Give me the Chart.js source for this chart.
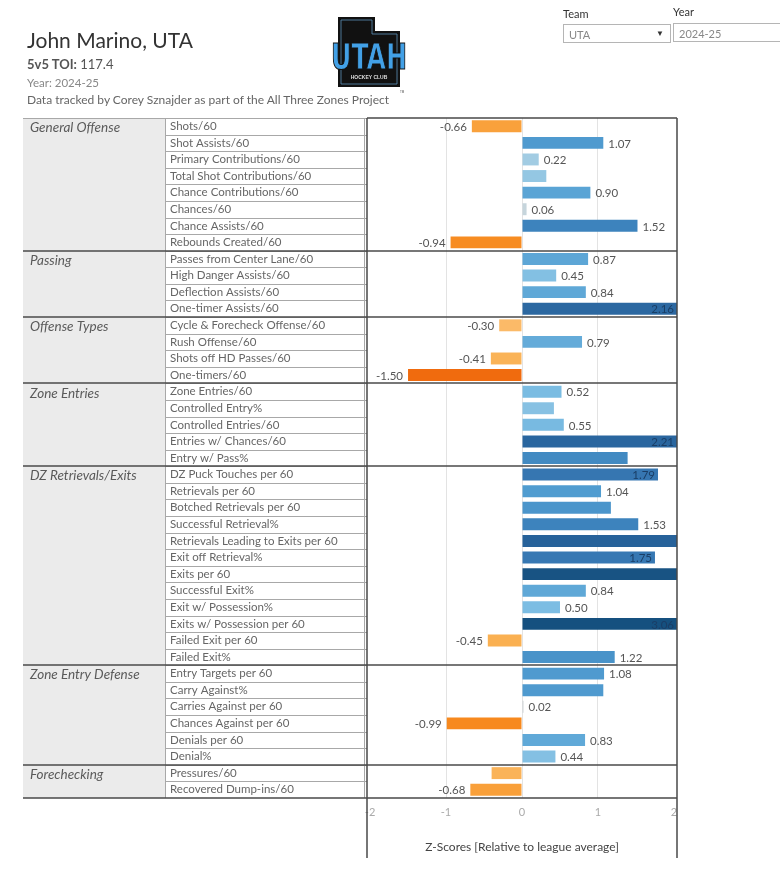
<!DOCTYPE html>
<html>
<head>
<meta charset="utf-8">
<script src="https://cdn.jsdelivr.net/npm/chart.js@4.4.1/dist/chart.umd.min.js"></script>
<style>
  body { margin: 0; background: #fff; font-family: Lato, sans-serif; }
  #wrap { position: relative; width: 780px; height: 877px; overflow: hidden; }
  #chart { position: absolute; left: 0; top: 0; }
  .t { position: absolute; white-space: nowrap; }
  .box { position: absolute; border: 1px solid #b5b5b5; box-sizing: border-box; font-size: 11px; color: #888; padding: 3px 5px; background: #fff; }
</style>
</head>
<body>
<div id="wrap">
  <canvas id="chart" width="780" height="877"></canvas>

  <div class="t" style="left:27px;top:27px;font-size:21px;color:#333;">John Marino, UTA</div>
  <div class="t" style="left:27px;top:56px;font-size:13px;color:#555;"><b>5v5 TOI:</b> 117.4</div>
  <div class="t" style="left:27px;top:76px;font-size:11.5px;color:#888;">Year: 2024-25</div>
  <div class="t" style="left:27px;top:92px;font-size:12px;color:#666;">Data tracked by Corey Sznajder as part of the All Three Zones Project</div>

  <svg class="t" style="left:328px;top:12px;" width="82" height="82" viewBox="0 0 82 82">
    <polygon points="10,5 47,5 47,19 72,19 72,75 10,75" fill="#111"/>
    <polygon points="13,8 44,8 44,22 69,22 69,72 13,72" fill="none" stroke="#5b8fb8" stroke-width="0.8"/>
    <text x="41" y="57" text-anchor="middle" font-family="DejaVu Sans Condensed, Liberation Sans Narrow, sans-serif" font-weight="bold" font-size="36" fill="#42a0e6" stroke="#111" stroke-width="1" textLength="76" lengthAdjust="spacingAndGlyphs">UTAH</text>
    <text x="41" y="67" text-anchor="middle" font-family="Liberation Sans, sans-serif" font-weight="bold" font-size="5" fill="#ddd">HOCKEY CLUB</text>
    <text x="72" y="81" font-family="Liberation Sans, sans-serif" font-size="3" fill="#555">TM</text>
  </svg>

  <div class="t" style="left:563px;top:7px;font-size:11px;color:#333;">Team</div>
  <div class="box" style="left:563px;top:24px;width:108px;height:19px;">UTA<span style="position:absolute;right:6px;top:3px;font-size:8px;color:#333;">&#9660;</span></div>
  <div class="t" style="left:673px;top:5px;font-size:11px;color:#333;">Year</div>
  <div class="box" style="left:673px;top:23px;width:120px;height:19px;">2024-25</div>
</div>

<script>
const groupNames = ['General Offense', 'Passing', 'Offense Types', 'Zone Entries', 'DZ Retrievals/Exits', 'Zone Entry Defense', 'Forechecking'];
const groupSizes = [8, 4, 4, 5, 12, 6, 2];

const metrics = [
    'Shots/60', 'Shot Assists/60', 'Primary Contributions/60', 'Total Shot Contributions/60',
    'Chance Contributions/60', 'Chances/60', 'Chance Assists/60', 'Rebounds Created/60',
    'Passes from Center Lane/60', 'High Danger Assists/60', 'Deflection Assists/60', 'One-timer Assists/60',
    'Cycle & Forecheck Offense/60', 'Rush Offense/60', 'Shots off HD Passes/60', 'One-timers/60',
    'Zone Entries/60', 'Controlled Entry%', 'Controlled Entries/60', 'Entries w/ Chances/60', 'Entry w/ Pass%',
    'DZ Puck Touches per 60', 'Retrievals per 60', 'Botched Retrievals per 60', 'Successful Retrieval%',
    'Retrievals Leading to Exits per 60', 'Exit off Retrieval%', 'Exits per 60', 'Successful Exit%',
    'Exit w/ Possession%', 'Exits w/ Possession per 60', 'Failed Exit per 60', 'Failed Exit%',
    'Entry Targets per 60', 'Carry Against%', 'Carries Against per 60', 'Chances Against per 60',
    'Denials per 60', 'Denial%',
    'Pressures/60', 'Recovered Dump-ins/60'
];

const zScores = [
    -0.66, 1.07, 0.22, 0.32, 0.90, 0.06, 1.52, -0.94,
    0.87, 0.45, 0.84, 2.16,
    -0.30, 0.79, -0.41, -1.50,
    0.52, 0.42, 0.55, 2.21, 1.39,
    1.79, 1.04, 1.17, 1.53, 2.35, 1.75, 2.90, 0.84, 0.50, 3.06, -0.45, 1.22,
    1.08, 1.07, 0.02, -0.99, 0.83, 0.44,
    -0.40, -0.68
];

// labels that the original view does not show
const hiddenLabels = [
    'Total Shot Contributions/60', 'Controlled Entry%', 'Entry w/ Pass%', 'Botched Retrievals per 60',
    'Retrievals Leading to Exits per 60', 'Exits per 60', 'Carry Against%', 'Pressures/60'
];

const xTicks = [-2, -1, 0, 1, 2];

// diverging orange-blue colour scale
const blueStops = [[0, '#d4d4d4'], [0.12, '#b8d5e4'], [0.22, '#a2cce3'], [0.5, '#7cbde3'], [1, '#529ed2'], [1.5, '#3e84be'], [2, '#306ca8'], [3, '#15507f']];
const orangeStops = [[0, '#d4d4d4'], [0.25, '#fbbd6f'], [0.5, '#faad4a'], [1, '#f7881d'], [1.5, '#f06b0e']];

function hexToRgb(h) {
    return [parseInt(h.slice(1, 3), 16), parseInt(h.slice(3, 5), 16), parseInt(h.slice(5, 7), 16)];
}

function zColor(v) {
    const stops = v >= 0 ? blueStops : orangeStops;
    const a = Math.abs(v);
    if (a >= stops[stops.length - 1][0]) return stops[stops.length - 1][1];
    for (let i = 1; i < stops.length; i++) {
        if (a <= stops[i][0]) {
            const t = (a - stops[i - 1][0]) / (stops[i][0] - stops[i - 1][0]);
            const c0 = hexToRgb(stops[i - 1][1]);
            const c1 = hexToRgb(stops[i][1]);
            const c = c0.map((x, k) => Math.round(x + (c1[k] - x) * t));
            return `rgb(${c[0]},${c[1]},${c[2]})`;
        }
    }
}

const TABLE_LEFT = 23;
const METRIC_LEFT = 165;

const tablePlugin = {
    id: 'tableFrame',
    beforeDraw(chart) {
        const ctx = chart.ctx;
        const area = chart.chartArea;
        ctx.save();
        ctx.fillStyle = '#ebebeb';
        ctx.fillRect(TABLE_LEFT, area.top, METRIC_LEFT - TABLE_LEFT, area.bottom - area.top);
        ctx.restore();
    },
    afterDraw(chart) {
        const ctx = chart.ctx;
        const area = chart.chartArea;
        const y = chart.scales.y;
        const half = (y.getPixelForValue(1) - y.getPixelForValue(0)) / 2;
        ctx.save();

        // row lines in the metric column
        ctx.strokeStyle = '#a8a8a8';
        ctx.lineWidth = 1;
        for (let i = 1; i < metrics.length; i++) {
            const py = Math.round(y.getPixelForValue(i) - half) + 0.5;
            ctx.beginPath();
            ctx.moveTo(METRIC_LEFT, py);
            ctx.lineTo(area.left, py);
            ctx.stroke();
        }
        ctx.beginPath();
        ctx.moveTo(METRIC_LEFT + 0.5, area.top);
        ctx.lineTo(METRIC_LEFT + 0.5, area.bottom);
        ctx.moveTo(area.left - 2.5, area.top);
        ctx.lineTo(area.left - 2.5, area.bottom);
        ctx.moveTo(TABLE_LEFT, area.top + 0.5);
        ctx.lineTo(area.left, area.top + 0.5);
        ctx.stroke();

        // group separators and group names
        ctx.strokeStyle = '#4a4a4a';
        ctx.lineWidth = 1.5;
        let start = 0;
        groupNames.forEach((name, g) => {
            ctx.font = 'italic 13.5px Lato';
            ctx.fillStyle = '#5a5a5a';
            ctx.textAlign = 'left';
            ctx.textBaseline = 'middle';
            ctx.fillText(name, 30, y.getPixelForValue(start) + 1.5);
            start += groupSizes[g];
            if (start < metrics.length) {
                const py = Math.round(y.getPixelForValue(start) - half);
                ctx.beginPath();
                ctx.moveTo(TABLE_LEFT, py);
                ctx.lineTo(area.right, py);
                ctx.stroke();
            }
        });

        // frame of the chart panel
        ctx.beginPath();
        ctx.moveTo(area.left, area.top);
        ctx.lineTo(area.right, area.top);
        ctx.moveTo(TABLE_LEFT, area.bottom);
        ctx.lineTo(area.right, area.bottom);
        ctx.moveTo(area.left, area.top);
        ctx.lineTo(area.left, 858);
        ctx.moveTo(area.right, area.top);
        ctx.lineTo(area.right, 858);
        ctx.stroke();

        // value labels
        ctx.font = '11.5px Lato';
        ctx.textBaseline = 'middle';
        const bars = chart.getDatasetMeta(0).data;
        bars.forEach((bar, i) => {
            if (hiddenLabels.includes(metrics[i])) return;
            const v = zScores[i];
            const txt = v.toFixed(2);
            const w = ctx.measureText(txt).width;
            if (v >= 0) {
                const end = Math.min(bar.x, area.right);
                if (end + 5 + w > area.right - 1) {
                    ctx.fillStyle = '#1a3e66';
                    ctx.textAlign = 'right';
                    ctx.fillText(txt, end - 3, bar.y + 1);
                } else {
                    ctx.fillStyle = '#555';
                    ctx.textAlign = 'left';
                    ctx.fillText(txt, end + 5, bar.y + 1);
                }
            } else {
                ctx.fillStyle = '#555';
                ctx.textAlign = 'right';
                ctx.fillText(txt, bar.x - 5, bar.y + 1);
            }
        });
        ctx.restore();
    }
};

Chart.defaults.font.family = 'Lato';

new Chart(document.getElementById('chart'), {
    type: 'bar',
    data: {
        labels: metrics,
        datasets: [{
            data: zScores,
            backgroundColor: zScores.map(zColor),
            barPercentage: 0.72,
            categoryPercentage: 1
        }]
    },
    options: {
        indexAxis: 'y',
        responsive: false,
        animation: false,
        devicePixelRatio: 1,
        layout: {
            padding: { left: 170, top: 118, right: 103, bottom: 19 }
        },
        scales: {
            x: {
                min: -2.04,
                max: 2.04,
                afterBuildTicks: (scale) => {
                    scale.ticks = xTicks.map(v => ({ value: v }));
                },
                afterFit: (scale) => {
                    scale.height = 60;
                },
                grid: {
                    drawTicks: false,
                    color: (c) => Math.abs(c.tick.value) === 2 ? 'rgba(0,0,0,0)' : '#e3e3e3'
                },
                border: { display: false },
                ticks: {
                    color: '#aaa',
                    font: { size: 11 },
                    padding: 8
                },
                title: {
                    display: true,
                    text: 'Z-Scores [Relative to league average]',
                    color: '#444',
                    font: { size: 12 },
                    padding: { top: 0, bottom: 4 }
                }
            },
            y: {
                afterFit: (scale) => {
                    scale.width = 197;
                },
                grid: { display: false },
                border: { display: false },
                ticks: {
                    crossAlign: 'far',
                    autoSkip: false,
                    color: '#666',
                    font: { size: 11.5 }
                }
            }
        },
        plugins: {
            legend: { display: false },
            tooltip: { enabled: false }
        }
    },
    plugins: [tablePlugin]
});
</script>
</body>
</html>
